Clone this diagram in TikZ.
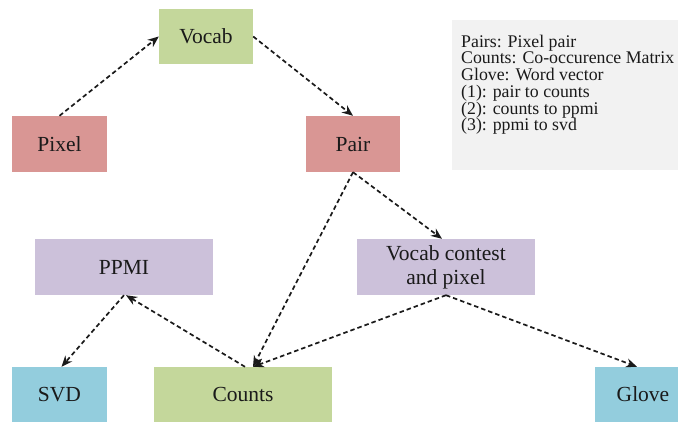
\documentclass[tikz,border=0pt]{standalone}
\usepackage{fontspec}
\setmainfont{Liberation Serif}
\usetikzlibrary{arrows.meta}
\definecolor{boxgreen}{HTML}{C4D79B}
\definecolor{boxred}{HTML}{D99694}
\definecolor{boxpurple}{HTML}{CCC1DA}
\definecolor{boxblue}{HTML}{93CDDD}
\definecolor{legendgray}{HTML}{F2F2F2}
\definecolor{inkdark}{HTML}{1A1A1A}
\begin{document}
\begin{tikzpicture}[x=1pt,y=-1pt,
  box/.style={draw=none, inner sep=0pt, align=center, text=inkdark, font=\fontsize{21.5}{25}\selectfont},
  smallbox/.style={box, minimum width=95pt, minimum height=56pt},
  widebox/.style={box, minimum width=178pt, minimum height=56pt},
  legendline/.style={anchor=base west, inner sep=0pt, text=inkdark, font=\fontsize{17.8}{18}\selectfont},
  flow/.style={draw=inkdark, line width=1.7pt, dash pattern=on 4.5pt off 3pt, -{Stealth[length=11pt,width=9pt]}}]
\useasboundingbox (0,0) rectangle (678,422);
\fill[white] (0,0) rectangle (678,422);
% legend
\node[fill=legendgray, minimum width=248pt, minimum height=150pt, inner sep=0pt] (legend) at (576,95) {};
\node[legendline] (l1) at (461,47.3) {Pairs: Pixel pair};
\node[legendline] (l2) at (461,64) {Counts: Co-occurence Matrix};
\node[legendline] (l3) at (461,80.7) {Glove: Word vector};
\node[legendline] (l4) at (461,97.4) {(1): pair to counts};
\node[legendline] (l5) at (461,114.1) {(2): counts to ppmi};
\node[legendline] (l6) at (461,130.8) {(3): ppmi to svd};
% boxes
\node[smallbox, fill=boxgreen, minimum width=94pt, minimum height=55pt] (vocab) at (206,36.5) {Vocab};
\node[smallbox, fill=boxred] (pixel) at (59.5,144) {Pixel};
\node[smallbox, fill=boxred, minimum width=94pt] (pair) at (353,144) {Pair};
\node[widebox, fill=boxpurple] (ppmi) at (124,267) {PPMI};
\node[widebox, fill=boxpurple] (vcp) at (446,267) {Vocab contest\\[-1pt]and pixel};
\node[smallbox, fill=boxblue, minimum height=55pt] (svd) at (59.5,394.5) {SVD};
\node[widebox, fill=boxgreen, minimum height=55pt] (counts) at (243,394.5) {Counts};
\node[smallbox, fill=boxblue, minimum width=96pt, minimum height=55pt] (glove) at (643,394.5) {Glove};
% connectors
\draw[flow] (pixel.north) -- (vocab.west);
\draw[flow] (vocab.east) -- (pair.north);
\draw[flow] (pair.south) -- ([xshift=10pt]counts.north);
\draw[flow] (pair.south) -- ([xshift=-4pt]vcp.north);
\draw[flow] (vcp.south) -- ([xshift=10pt]counts.north);
\draw[flow] (vcp.south) -- ([xshift=-6pt]glove.north);
\draw[flow] ([xshift=2pt]counts.north) -- ([xshift=2pt]ppmi.south);
\draw[flow] (ppmi.south) -- ([xshift=2pt]svd.north);
\end{tikzpicture}
\end{document}
